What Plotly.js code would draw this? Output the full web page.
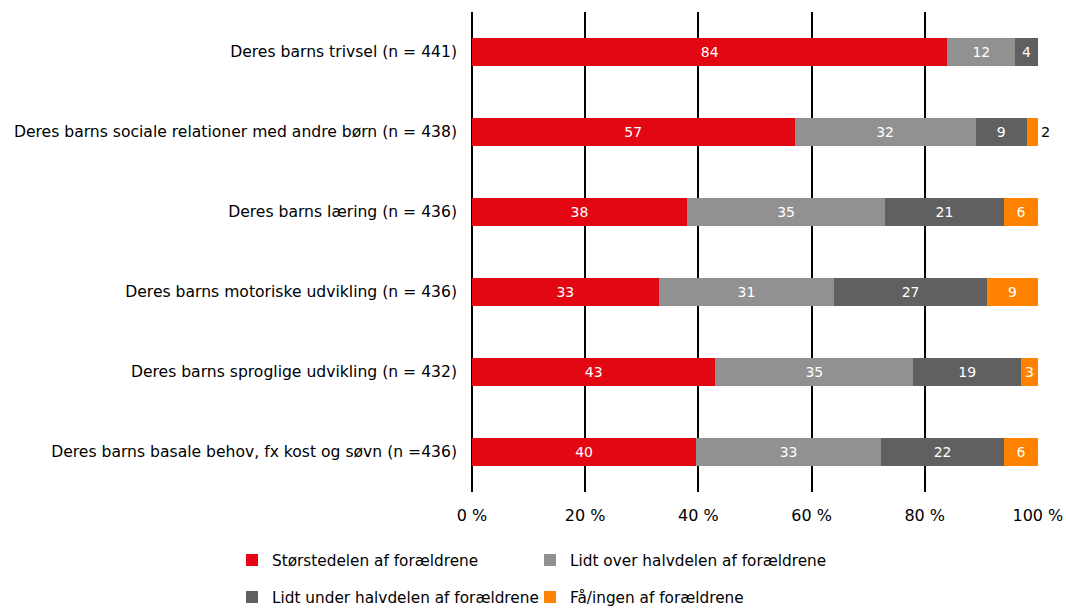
<!DOCTYPE html>
<html><head><meta charset="utf-8">
<script src="https://cdn.plot.ly/plotly-3.0.1.min.js"></script>
<style>body{margin:0;background:#fff}#chart{width:1066px;height:608px}</style>
</head><body><div id="chart"></div>
<script>
const categories = [
  "Deres barns trivsel (n = 441)",
  "Deres barns sociale relationer med andre børn (n = 438)",
  "Deres barns læring (n = 436)",
  "Deres barns motoriske udvikling (n = 436)",
  "Deres barns sproglige udvikling (n = 432)",
  "Deres barns basale behov, fx kost og søvn (n =436)"
];
const seriesNames = [
  "Størstedelen af forældrene",
  "Lidt over halvdelen af forældrene",
  "Lidt under halvdelen af forældrene",
  "Få/ingen af forældrene"
];
const stoerstedelen = [84, 57, 38, 33, 43, 39.6];
const lidtOver      = [12, 32, 35, 31, 35, 32.7];
const lidtUnder     = [4, 9, 21, 27, 19, 21.7];
const faaIngen      = [0, 2, 6, 9, 3, 6];
const tickVals = [0, 20, 40, 60, 80, 100];

const colors = ["#E30613", "#919191", "#606060", "#FF8200"];
const values = [stoerstedelen, lidtOver, lidtUnder, faaIngen];
const font = "DejaVu Sans, sans-serif";
const legendIds = ["legend", "legend2", "legend3", "legend4"];

const traces = values.map((v, i) => {
  const isLast = i === 3;
  return {
    type: "bar",
    orientation: "h",
    name: seriesNames[i],
    y: categories,
    x: v,
    marker: {color: colors[i]},
    text: v.map(d => d > 0 ? Math.round(d).toString() : ""),
    texttemplate: "%{text}",
    textposition: isLast ? v.map((d, j) => (j === 1 ? "outside" : "inside")) : "inside",
    insidetextanchor: "middle",
    insidetextfont: {color: "#ffffff", size: 14, family: font},
    outsidetextfont: {color: "#000000", size: 14.5, family: font},
    constraintext: "none",
    cliponaxis: false,
    hoverinfo: "none",
    legend: legendIds[i]
  };
});

const legendCommon = {
  orientation: "h",
  xanchor: "left",
  yanchor: "middle",
  font: {family: font, size: 15.3, color: "#000"},
  bgcolor: "rgba(0,0,0,0)"
};
const legX = [-0.424, 0.1025, -0.424, 0.1025];
const legY = [-0.1417, -0.1417, -0.219, -0.219];

const layout = {
  width: 1066, height: 608,
  margin: {l: 472, r: 28, t: 12, b: 116, autoexpand: false},
  barmode: "stack",
  bargap: 0.64,
  paper_bgcolor: "#fff",
  plot_bgcolor: "#fff",
  showlegend: true,
  font: {family: font, size: 15.6, color: "#000"},
  xaxis: {
    range: [0, 100.02],
    tickvals: tickVals,
    ticktext: tickVals.map(t => t + " %"),
    showgrid: true,
    gridcolor: "#000",
    gridwidth: 2,
    zeroline: true,
    zerolinecolor: "#000",
    zerolinewidth: 2,
    showline: false,
    ticks: "",
    ticklabelstandoff: 12,
    tickfont: {family: font, size: 16, color: "#000"},
    fixedrange: true
  },
  yaxis: {
    autorange: "reversed",
    type: "category",
    showgrid: false,
    zeroline: false,
    ticks: "",
    ticklabelstandoff: 14,
    tickfont: {family: font, size: 15.6, color: "#000"},
    fixedrange: true
  }
};
legendIds.forEach((id, i) => {
  layout[id] = Object.assign({}, legendCommon, {x: legX[i], y: legY[i]});
});

Plotly.newPlot("chart", traces, layout, {displayModeBar: false, staticPlot: true});
</script></body></html>
